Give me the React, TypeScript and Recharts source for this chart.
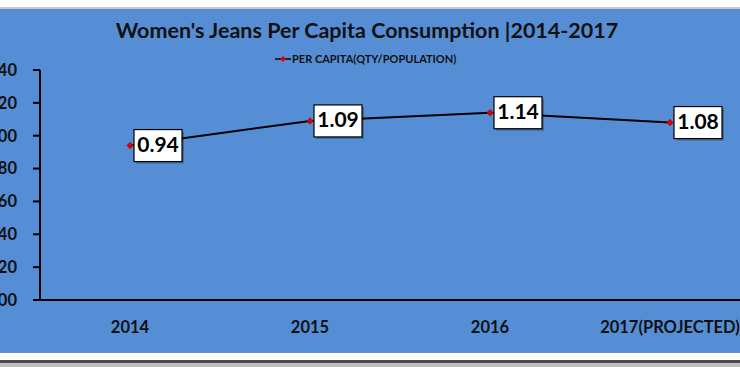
import React from "react";
import { LineChart, Line, XAxis, YAxis, LabelList } from "recharts";

// chart values
const years = ["2014", "2015", "2016", "2017(PROJECTED)"];
const perCapita = [0.94, 1.09, 1.14, 1.08];
const yTicks = [0, 0.2, 0.4, 0.6, 0.8, 1.0, 1.2, 1.4];

const data = years.map((year, i) => ({ year, perCapita: perCapita[i] }));

const FONT = "Lato, 'Open Sans', sans-serif";
const BLUE = "#558ED5";

// red diamond marker
function Diamond(props: any) {
  const { cx, cy } = props;
  if (cx == null || cy == null) return null;
  const r = 3.2;
  return (
    <polygon
      points={`${cx},${cy - r} ${cx + r},${cy} ${cx},${cy + r} ${cx - r},${cy}`}
      fill="#E00000"
      stroke="#9B0000"
      strokeWidth={0.6}
    />
  );
}

// white boxed value label to the right of the point
function BoxLabel(props: any) {
  const { x, y, value } = props;
  const w = 48;
  const h = 32;
  const bx = x + 4;
  const by = y - h / 2;
  return (
    <g>
      <rect x={bx + 2} y={by + 2} width={w} height={h} fill="rgba(0,0,0,0.25)" />
      <rect x={bx} y={by} width={w} height={h} fill="#fff" stroke="#000" strokeWidth={1.2} />
      <text
        x={bx + w / 2}
        y={y + 1}
        textAnchor="middle"
        dominantBaseline="middle"
        fontFamily={FONT}
        fontWeight={700}
        fontSize={21}
        fill="#000"
      >
        {Number(value).toFixed(2)}
      </text>
    </g>
  );
}

export default function App() {
  return (
    <div
      style={{
        position: "fixed",
        left: 0,
        top: 0,
        width: 740,
        height: 367,
        overflow: "hidden",
        background: "#fff",
      }}
    >
      {/* screenshot frame lines */}
      <div style={{ position: "absolute", left: 0, top: 7, width: 740, height: 2, background: "#c8c8c8" }} />
      <div style={{ position: "absolute", left: 0, top: 360, width: 740, height: 3, background: "#4a4a4a" }} />
      <div style={{ position: "absolute", left: 0, top: 363, width: 740, height: 4, background: "#bdbdbd" }} />

      {/* blue chart area */}
      <div style={{ position: "absolute", left: 0, top: 9, width: 740, height: 344, background: BLUE }}>
        <div
          style={{
            position: "absolute",
            left: 0,
            top: 8,
            width: 734,
            textAlign: "center",
            fontFamily: FONT,
            fontWeight: 700,
            fontSize: 21.5,
            color: "#111",
          }}
        >
          Women's Jeans Per Capita Consumption |2014-2017
        </div>

        <div
          style={{
            position: "absolute",
            left: 275,
            top: 43,
            display: "flex",
            alignItems: "center",
            fontFamily: FONT,
            fontWeight: 700,
            fontSize: 11,
            color: "#111",
          }}
        >
          <svg width={16} height={8} style={{ marginRight: 1 }}>
            <line x1={0} y1={4} x2={16} y2={4} stroke="#000" strokeWidth={1.5} />
            <polygon points="8,1 11,4 8,7 5,4" fill="#E00000" />
          </svg>
          PER CAPITA(QTY/POPULATION)
        </div>

        <div style={{ position: "absolute", left: -60, top: 0 }}>
          <LineChart
            width={860}
            height={344}
            data={data}
            margin={{ top: 61, right: 40, bottom: 0, left: 0 }}
          >
            <XAxis
              dataKey="year"
              height={53}
              padding={{ left: 90, right: 90 }}
              axisLine={{ stroke: "#000", strokeWidth: 2 }}
              tickLine={false}
              tickSize={0}
              tickMargin={21}
              tick={{ fill: "#111", fontFamily: FONT, fontWeight: 700, fontSize: 16.5 }}
            />
            <YAxis
              width={100}
              domain={[0, 1.4]}
              ticks={yTicks}
              interval={0}
              tickFormatter={(v: number) => v.toFixed(2)}
              axisLine={{ stroke: "#000", strokeWidth: 2 }}
              tickLine={{ stroke: "#000", strokeWidth: 2 }}
              tickSize={7}
              tickMargin={16}
              tick={{ fill: "#111", fontFamily: FONT, fontWeight: 700, fontSize: 16.5 }}
            />
            <Line
              dataKey="perCapita"
              stroke="#000"
              strokeWidth={2}
              dot={<Diamond />}
              activeDot={false}
              isAnimationActive={false}
            >
              <LabelList dataKey="perCapita" content={<BoxLabel />} />
            </Line>
          </LineChart>
        </div>
      </div>
    </div>
  );
}
